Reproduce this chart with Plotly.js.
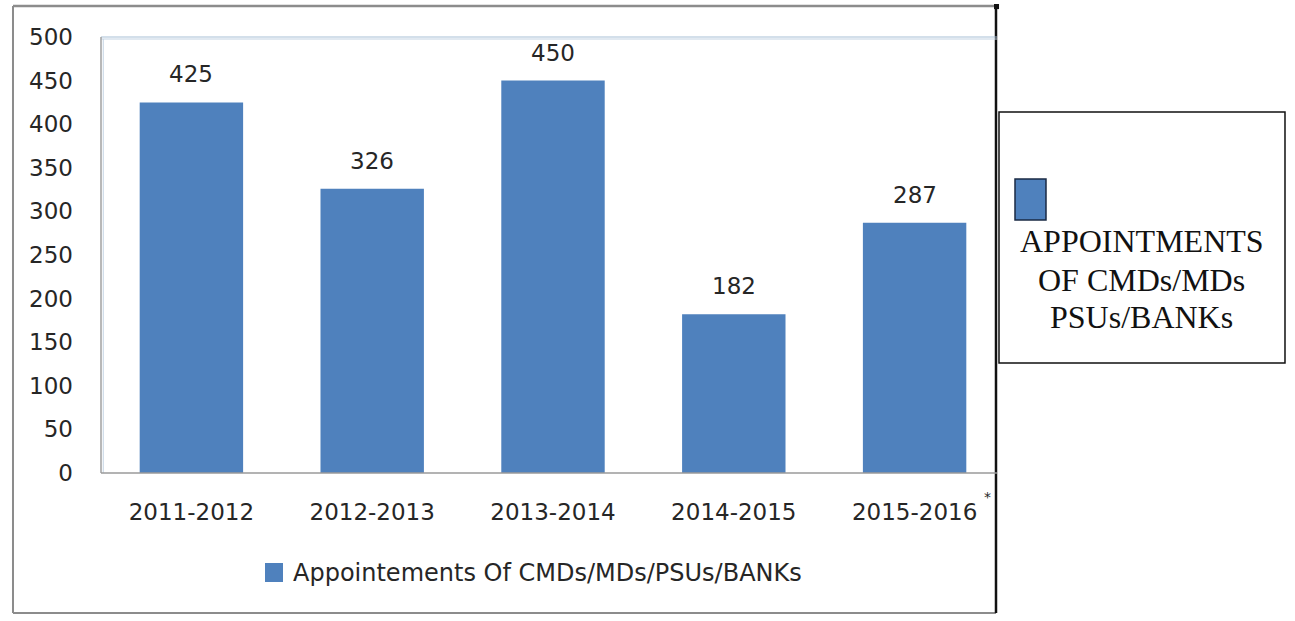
<!DOCTYPE html>
<html>
<head>
<meta charset="utf-8">
<script src="https://cdn.plot.ly/plotly-3.0.1.min.js"></script>
<style>
  html, body { margin: 0; padding: 0; background: #ffffff; }
  #chart { width: 1295px; height: 621px; }
</style>
</head>
<body>
<div id="chart"></div>
<script>
// ---- Data ----
const categories = ["2011-2012", "2012-2013", "2013-2014", "2014-2015", "2015-2016"];
const appointments = [425, 326, 450, 182, 287];
const yTickValues = [0, 50, 100, 150, 200, 250, 300, 350, 400, 450, 500];
const seriesName = "Appointements Of CMDs/MDs/PSUs/BANKs";
const sideLegendLines = ["APPOINTMENTS", "OF CMDs/MDs", "PSUs/BANKs"];
const footnoteMark = "*";

// ---- Styles ----
const barColor = "#4f81bd";
const textColor = "#262626";
const sansFont = "DejaVu Sans, Verdana, sans-serif";
const serifFont = "Liberation Serif, Times New Roman, serif";

const trace = {
  type: "bar",
  x: categories,
  y: appointments,
  name: seriesName,
  marker: { color: barColor, line: { width: 0 } },
  hoverinfo: "x+y",
  showlegend: false
};

const annotations = categories.map((c, i) => ({
  x: c, y: appointments[i], xref: "x", yref: "y",
  text: String(appointments[i]),
  showarrow: false, yanchor: "middle", yshift: 28,
  font: { family: sansFont, size: 23, color: textColor }
}));

// footnote asterisk next to last category label
annotations.push({
  x: 0.9803, y: -0.054, xref: "paper", yref: "paper",
  text: footnoteMark, showarrow: false,
  xanchor: "center", yanchor: "middle",
  font: { family: sansFont, size: 14, color: textColor }
});

// bottom legend text (series name)
annotations.push({
  x: 0.2101, y: -0.2294, xref: "paper", yref: "paper",
  text: seriesName, showarrow: false, xanchor: "left", yanchor: "middle",
  font: { family: sansFont, size: 24, color: textColor }
});

// side legend text lines
const sideY = [0.53211, 0.44266, 0.35780];
sideLegendLines.forEach((t, i) => {
  annotations.push({
    x: 1.1515, y: sideY[i], xref: "paper", yref: "paper",
    text: t, showarrow: false, xanchor: "center", yanchor: "middle",
    font: { family: serifFont, size: 32, color: "#111111" }
  });
});

const shapes = [
  // outer chart frame (gray left/top/bottom)
  { type: "line", xref: "paper", yref: "paper", x0: -0.09735, x1: 0.99004, y0: 1.0711, y1: 1.0711,
    line: { color: "#8c8c8c", width: 2.5 } },
  { type: "line", xref: "paper", yref: "paper", x0: -0.09735, x1: -0.09735, y0: 1.0711, y1: -0.3211,
    line: { color: "#8c8c8c", width: 2 } },
  { type: "line", xref: "paper", yref: "paper", x0: -0.09735, x1: 0.99004, y0: -0.3211, y1: -0.3211,
    line: { color: "#8c8c8c", width: 2 } },
  // right frame edge (black)
  { type: "line", xref: "paper", yref: "paper", x0: 0.99004, x1: 0.99004, y0: 1.0711, y1: -0.3211,
    line: { color: "#111111", width: 2.5 } },
  { type: "rect", xref: "paper", yref: "paper", x0: 0.9878, x1: 0.9934, y0: 1.064, y1: 1.0757,
    fillcolor: "#111111", line: { width: 0 } },
  // plot area top double line (light blue)
  { type: "line", xref: "paper", yref: "paper", x0: 0, x1: 0.9911, y0: 1.0, y1: 1.0,
    line: { color: "#a8bfd6", width: 1.2 } },
  { type: "line", xref: "paper", yref: "paper", x0: 0, x1: 0.9911, y0: 0.9954, y1: 0.9954,
    line: { color: "#c3d3e3", width: 1 } },
  // plot area left line
  { type: "line", xref: "paper", yref: "paper", x0: 0, x1: 0, y0: 1.0, y1: 0,
    line: { color: "#a0a0a0", width: 1.5 } },
  { type: "line", xref: "paper", yref: "paper", x0: 0.0025, x1: 0.0025, y0: 0.9954, y1: 0,
    line: { color: "#c3d3e3", width: 1 } },
  // category axis baseline (stops at the frame edge)
  { type: "line", xref: "paper", yref: "paper", x0: 0, x1: 0.9911, y0: 0, y1: 0,
    line: { color: "#9a9a9a", width: 1.5 } },
  // bottom legend swatch
  { type: "rect", xref: "paper", yref: "paper", x0: 0.1814, x1: 0.2013, y0: -0.2064, y1: -0.2500,
    fillcolor: barColor, line: { width: 0 } },
  // side legend box
  { type: "rect", xref: "paper", yref: "paper", x0: 0.99336, x1: 1.30973, y0: 0.82798, y1: 0.25229,
    fillcolor: "rgba(0,0,0,0)", line: { color: "#111111", width: 1.5 } },
  // side legend swatch
  { type: "rect", xref: "paper", yref: "paper", x0: 1.01106, x1: 1.04535, y0: 0.67431, y1: 0.58028,
    fillcolor: barColor, line: { color: "#1a2a44", width: 1.5 } }
];

const layout = {
  width: 1295, height: 621,
  margin: { l: 101, r: 290, t: 37, b: 148, pad: 0 },
  paper_bgcolor: "#ffffff", plot_bgcolor: "#ffffff",
  bargap: 0.428,
  font: { family: sansFont, color: textColor },
  xaxis: {
    type: "category", range: [-0.5, 4.5],
    showgrid: false, zeroline: false, showline: false,
    ticks: "", ticklabelstandoff: 23,
    tickfont: { family: sansFont, size: 23, color: textColor },
    fixedrange: true
  },
  yaxis: {
    range: [0, 500], tickmode: "array", tickvals: yTickValues,
    ticktext: yTickValues.map(String),
    showgrid: false, zeroline: false, showline: false,
    ticks: "", ticklabelstandoff: 27,
    tickfont: { family: sansFont, size: 23, color: textColor },
    fixedrange: true
  },
  showlegend: false,
  annotations: annotations,
  shapes: shapes
};

Plotly.newPlot("chart", [trace], layout, { displayModeBar: false, staticPlot: true });
</script>
</body>
</html>
